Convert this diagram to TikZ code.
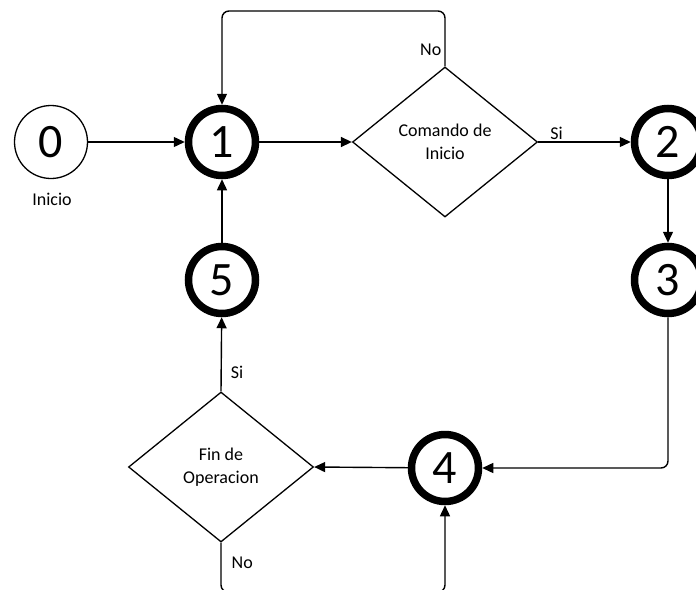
\documentclass[tikz,border=0pt]{standalone}
\usepackage{fontspec}
\setmainfont{Carlito}
\usetikzlibrary{arrows.meta,shapes.geometric,positioning}
\tikzset{
  state/.style={circle, draw, line width=7.5pt, minimum size=67pt, inner sep=0pt,
    font=\fontsize{48}{48}\selectfont},
  startstate/.style={circle, draw, line width=1.3pt, minimum size=73pt, inner sep=0pt,
    font=\fontsize{48}{48}\selectfont},
  decision/.style={diamond, draw, line width=1.3pt, aspect=1.24, minimum width=185pt,
    minimum height=150pt, inner sep=0pt, align=center, font=\fontsize{18}{23}\selectfont},
  conn/.style={line width=1.4pt, -{Triangle[length=11pt,width=10pt]}},
  lbl/.style={font=\fontsize{18}{22}\selectfont, inner sep=2pt}
}
\begin{document}
\begin{tikzpicture}[x=1pt,y=-1pt]
\useasboundingbox (0,0) rectangle (696,589);
% states
\node[startstate] (n0) at (51,142) {0};
\node[lbl] (inicio) at (52,199) {Inicio};
\node[state] (n1) at (222,142) {1};
\node[decision] (d1) at (445,142) {Comando de\\Inicio};
\node[state] (n2) at (668,142) {2};
\node[state] (n3) at (668,280) {3};
\node[state] (n4) at (445,468) {4};
\node[decision] (d2) at (221,467) {Fin de\\Operacion};
\node[state] (n5) at (222,280) {5};
\coordinate (loop) at (0,11);
\coordinate (bottom) at (0,592);
% connectors
\draw[conn] (d1.east) -- node[lbl, above, pos=0.2] {Si} (n2);
\draw[conn] (n0) -- (n1);
\draw[conn] (n1) -- (d1.west);
\draw[conn, rounded corners=7pt] (d1.north) -- node[lbl, left, pos=0.3, inner sep=3pt] {No} (d1.north |- loop) -| (n1.north);
\draw[conn] (n2) -- (n3);
\draw[conn, rounded corners=7pt] (n3.south) |- (n4.east);
\draw[conn] (n4) -- (d2.east);
\draw[conn] (d2.north) -- node[lbl, right, pos=0.25, inner sep=9pt] {Si} (n5);
\draw[conn] (n5) -- (n1);
\draw[conn, rounded corners=7pt] (d2.south) -- node[lbl, right, pos=0.4, inner sep=10pt] {No} (d2.south |- bottom) -| (n4.south);
\end{tikzpicture}
\end{document}
